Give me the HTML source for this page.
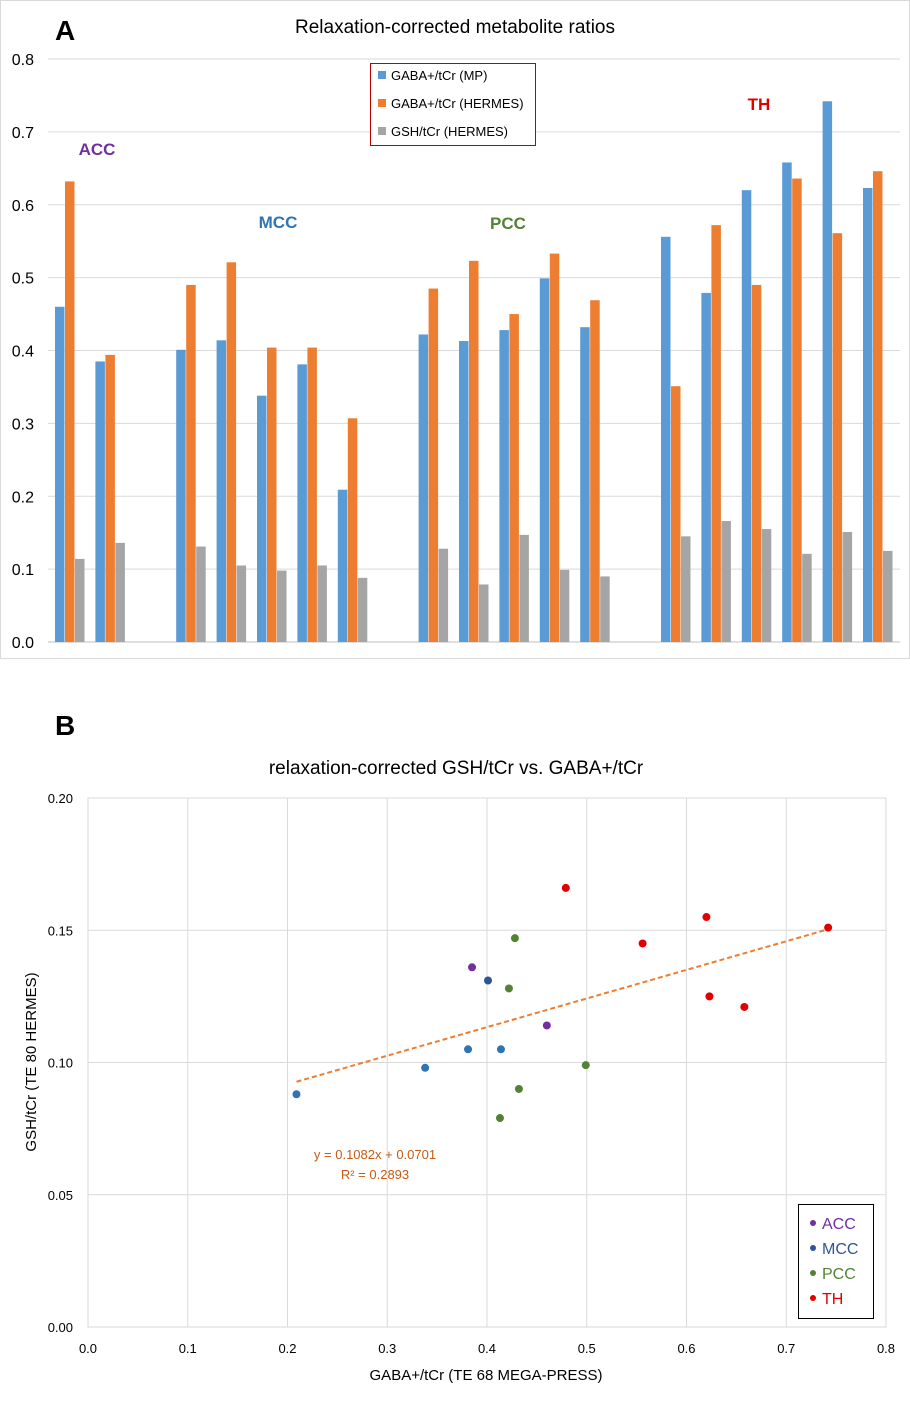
<!DOCTYPE html>
<html><head><meta charset="utf-8"><style>
body{margin:0;background:#fff;font-family:"Liberation Sans",sans-serif;}
svg text{font-family:"Liberation Sans",sans-serif;}
</style></head><body>
<svg id="s" width="910" height="1400">
<rect x="0.5" y="0.5" width="909" height="658" fill="#fff" stroke="#d9d9d9"/>
<text x="55" y="40" font-size="28" font-weight="bold">A</text>
<text x="455" y="33" font-size="19" text-anchor="middle">Relaxation-corrected metabolite ratios</text>
<g id="ga"></g>
<rect x="370.5" y="63.5" width="165" height="82" fill="#fff" stroke="#c00000"/>
<rect x="378" y="71" width="8" height="8" fill="#5b9bd5"/><text x="391" y="80" font-size="13">GABA+/tCr (MP)</text>
<rect x="378" y="99" width="8" height="8" fill="#ed7d31"/><text x="391" y="108" font-size="13">GABA+/tCr (HERMES)</text>
<rect x="378" y="127" width="8" height="8" fill="#a5a5a5"/><text x="391" y="136" font-size="13">GSH/tCr (HERMES)</text>
<text x="97" y="155" font-size="17" font-weight="bold" fill="#7030a0" text-anchor="middle">ACC</text>
<text x="278" y="228" font-size="17" font-weight="bold" fill="#2e75b6" text-anchor="middle">MCC</text>
<text x="508" y="229" font-size="17" font-weight="bold" fill="#548235" text-anchor="middle">PCC</text>
<text x="759" y="110" font-size="17" font-weight="bold" fill="#e00000" text-anchor="middle">TH</text>

<text x="55" y="735" font-size="28" font-weight="bold">B</text>
<text x="456" y="774" font-size="19" text-anchor="middle">relaxation-corrected GSH/tCr vs. GABA+/tCr</text>
<g id="gb"></g>
<text x="486" y="1380" font-size="15" text-anchor="middle">GABA+/tCr (TE 68 MEGA-PRESS)</text>
<text transform="translate(36,1062) rotate(-90)" font-size="15" text-anchor="middle">GSH/tCr (TE 80 HERMES)</text>
<text x="375" y="1159" font-size="13" fill="#c55a11" text-anchor="middle">y = 0.1082x + 0.0701</text>
<text x="375" y="1179" font-size="13" fill="#c55a11" text-anchor="middle">R² = 0.2893</text>
<rect x="798.5" y="1204.5" width="75" height="114" fill="#fff" stroke="#000"/>
<circle cx="813" cy="1223" r="3" fill="#7030a0"/><text x="822" y="1229" font-size="16" fill="#7030a0">ACC</text>
<circle cx="813" cy="1248" r="3" fill="#2f5597"/><text x="822" y="1254" font-size="16" fill="#2f5597">MCC</text>
<circle cx="813" cy="1273" r="3" fill="#548235"/><text x="822" y="1279" font-size="16" fill="#548235">PCC</text>
<circle cx="813" cy="1298" r="3" fill="#e00000"/><text x="822" y="1304" font-size="16" fill="#e00000">TH</text>
</svg>
<script>
const groups=["ACC","MCC","PCC","TH"];
const groupColors=["#7030a0","#2e75b6","#548235","#e00000"];
const accMP=[0.46,0.385], accHE=[0.632,0.394], accGSH=[0.114,0.136];
const mccMP=[0.401,0.414,0.338,0.381,0.209], mccHE=[0.490,0.521,0.404,0.404,0.307], mccGSH=[0.131,0.105,0.098,0.105,0.088];
const pccMP=[0.422,0.413,0.428,0.499,0.432], pccHE=[0.485,0.523,0.450,0.533,0.469], pccGSH=[0.128,0.079,0.147,0.099,0.090];
const thMP=[0.556,0.479,0.620,0.658,0.742,0.623], thHE=[0.351,0.572,0.490,0.636,0.561,0.646], thGSH=[0.145,0.166,0.155,0.121,0.151,0.125];
const yTicksA=["0.0","0.1","0.2","0.3","0.4","0.5","0.6","0.7","0.8"];
const xTicksB=["0.0","0.1","0.2","0.3","0.4","0.5","0.6","0.7","0.8"];
const yTicksB=["0.00","0.05","0.10","0.15","0.20"];
const trendSlope=0.1082, trendIntercept=0.0701;
const NS="http://www.w3.org/2000/svg";
function mk(p,t,a){const e=document.createElementNS(NS,t);for(const k in a)e.setAttribute(k,a[k]);p.appendChild(e);return e;}
const ga=document.getElementById('ga'), gb=document.getElementById('gb');
// Chart A
const yA=v=>642-v*728.75;
const slotW=40.4, left=48;
yTicksA.forEach(t=>{const y=yA(+t);
 const l=mk(ga,'line',{x1:48,x2:900,y1:y,y2:y,stroke:t==="0.0"?"#bfbfbf":"#d9d9d9"});
 
 const tx=mk(ga,'text',{x:34,y:y+6,'font-size':16,'text-anchor':'end'});tx.textContent=t;
 });
const all=[[accMP,accHE,accGSH],[mccMP,mccHE,mccGSH],[pccMP,pccHE,pccGSH],[thMP,thHE,thGSH]];
const cols=["#5b9bd5","#ed7d31","#a5a5a5"];
let slot=0;
all.forEach((g,gi)=>{
 g[0].forEach((_,i)=>{
  const x0=left+slot*slotW+7;
  g.forEach((ser,si)=>{const v=ser[i];
   const r=mk(ga,'rect',{x:x0+si*10,y:yA(v),width:9.5,height:642-yA(v),fill:cols[si]});
   
   });
  slot++;});
 slot++;});
// Chart B
const xB=v=>88+v*997.5, yB=v=>1327-v*2645;
mk(gb,'rect',{x:88,y:798,width:798,height:529,fill:'none',stroke:'#d9d9d9'});
xTicksB.forEach(t=>{const x=xB(+t);
 const l=mk(gb,'line',{x1:x,x2:x,y1:798,y2:1327,stroke:'#d9d9d9'});
 
 const tx=mk(gb,'text',{x:x,y:1353,'font-size':13,'text-anchor':'middle'});tx.textContent=t;
 });
yTicksB.forEach(t=>{const y=yB(+t);
 const l=mk(gb,'line',{x1:88,x2:886,y1:y,y2:y,stroke:'#d9d9d9'});
 
 const tx=mk(gb,'text',{x:73,y:y+5,'font-size':13,'text-anchor':'end'});tx.textContent=t;
 });
const xs=[].concat(accMP,mccMP,pccMP,thMP);
const xmin=Math.min(...xs), xmax=Math.max(...xs);
const tl=mk(gb,'line',{x1:xB(xmin),y1:yB(trendSlope*xmin+trendIntercept),x2:xB(xmax),y2:yB(trendSlope*xmax+trendIntercept),stroke:'#ed7d31','stroke-width':2,'stroke-dasharray':'5,3'});

all.forEach((g,gi)=>{g[0].forEach((v,i)=>{
 let c=groupColors[gi]; if(gi===1&&i===0)c="#2f5597";
 const p=mk(gb,'circle',{cx:xB(v),cy:yB(g[2][i]),r:4,fill:c});
 
 });});
</script>
</body></html>
